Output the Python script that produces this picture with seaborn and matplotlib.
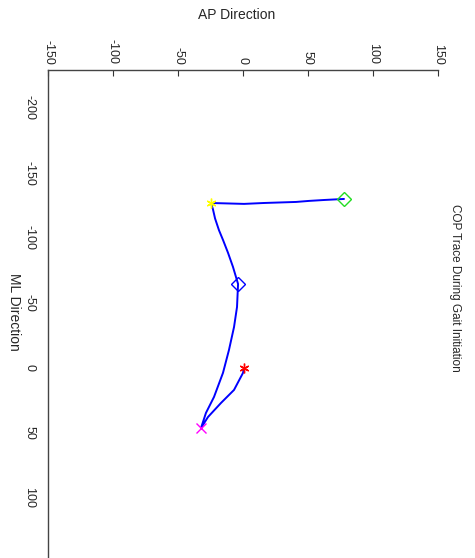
import matplotlib
matplotlib.use("Agg")
import matplotlib.pyplot as plt
import pandas as pd
import seaborn as sns

ap = [0.8, 0, -6.9, -16.9, -26.9, -32.3, -28.5, -22.3, -15.4, -10.8, -6.9, -4.6, -3.8,
      -7.7, -11.5, -15.4, -18.5, -21.5, -23.1, -24.6, 0.8, 16.2, 40.8, 50.8, 62.3, 77.7]
ml = [0, 3.8, 16.9, 26.9, 37.7, 46.2, 34.6, 22.3, 3.8, -13.8, -31.5, -46.9, -64.6,
      -77.7, -88.5, -98.5, -106, -115, -122, -126.9, -126.2, -126.9, -127.7, -128.5, -129.2, -130]

# event markers: index into trace, marker, colour, fill
events = [(0, (6, 2, 0), 'red', 'full'), (5, 'x', 'magenta', 'full'), (12, 'D', 'blue', 'none'),
          (19, (6, 2, 0), 'yellow', 'full'), (25, 'D', '#22dd22', 'none')]

ap_ticks = [-150, -100, -50, 0, 50, 100, 150]
ml_ticks = [-200, -150, -100, -50, 0, 50, 100]

sns.set_style("white")
plt.rcParams['font.family'] = ['Liberation Sans', 'DejaVu Sans']

df = pd.DataFrame({'AP': ap, 'ML': ml})

fig = plt.figure(figsize=(4.75, 5.58), dpi=100)
ax = fig.add_axes([48 / 475, 0, 390 / 475, 488 / 558])
sns.lineplot(data=df, x='AP', y='ML', sort=False, estimator=None, color='blue', linewidth=1.4, ax=ax)
for i, m, c, fill in events:
    ax.plot(ap[i], ml[i], marker=m, color=c, markersize=7, fillstyle=fill, markeredgewidth=1.0)

ax.set_xlim(-150, 150)
ax.set_ylim(146.2, -229.2)
ax.set_xticks(ap_ticks)
ax.set_yticks(ml_ticks)
ax.set_xticklabels([str(t) for t in ap_ticks], rotation=-90, fontsize=9)
ax.set_yticklabels([str(t) for t in ml_ticks], rotation=-90, fontsize=9, va='center')
ax.xaxis.tick_top()
ax.tick_params(axis='both', direction='in', length=4, width=0.8, color='#333333')
ax.tick_params(axis='x', pad=4)
ax.tick_params(axis='y', pad=9)
ax.set_xlabel('')
ax.set_ylabel('')
for s in ['right', 'bottom']:
    ax.spines[s].set_visible(False)
for s in ['left', 'top']:
    ax.spines[s].set_color('#444444')
    ax.spines[s].set_linewidth(1.0)

fig.text(237 / 475, 1 - 15 / 558, 'AP Direction', ha='center', va='center', fontsize=10)
fig.text(14 / 475, 1 - 312 / 558, 'ML Direction', ha='center', va='center', fontsize=10, rotation=-90)
fig.text(455 / 475, 1 - 288 / 558, 'COP Trace During Gait Initiation', ha='center', va='center',
         fontsize=8.5, rotation=-90)

fig.savefig('out.png', dpi=100)
